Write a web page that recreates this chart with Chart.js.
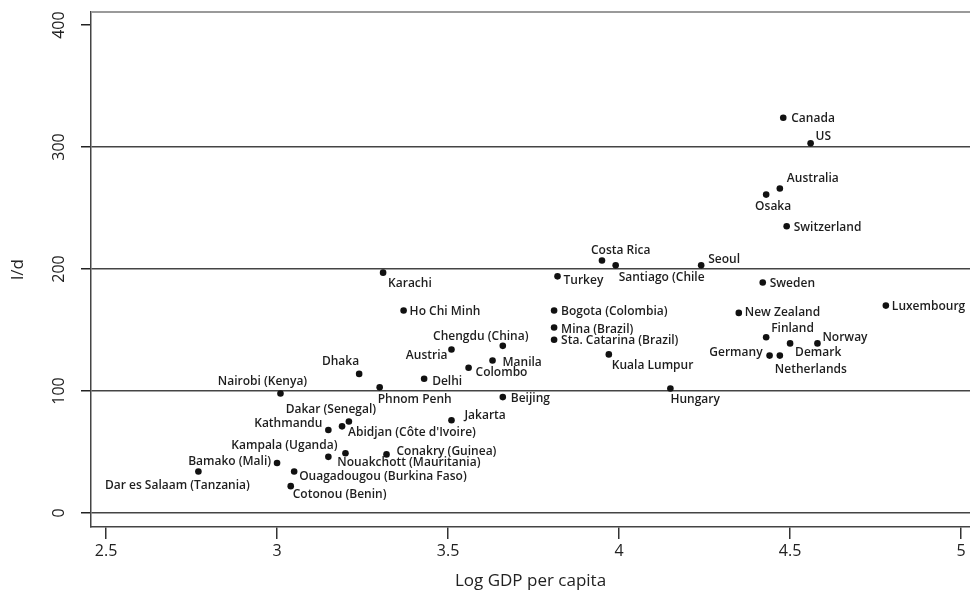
<!DOCTYPE html>
<html>
<head>
<meta charset="utf-8">
<script src="https://cdn.jsdelivr.net/npm/chart.js@4.4.1/dist/chart.umd.min.js"></script>
<style>
  html, body { margin: 0; padding: 0; background: #fff; overflow: hidden; }
  #wrap { width: 970px; height: 592px; }
</style>
</head>
<body>
<div id="wrap"><canvas id="gdpChart"></canvas></div>
<script>
// ---- data ----
const places = [
    "Canada", "US", "Australia", "Osaka", "Switzerland", "Costa Rica", "Santiago (Chile", "Seoul",
    "Turkey", "Sweden", "Karachi", "Ho Chi Minh", "Bogota (Colombia)", "Mina (Brazil)",
    "Sta. Catarina (Brazil)", "Chengdu (China)", "Austria", "Manila", "Colombo", "Delhi",
    "Phnom Penh", "Beijing", "Jakarta", "Kuala Lumpur", "Hungary", "New Zealand", "Luxembourg",
    "Finland", "Norway", "Demark", "Germany", "Netherlands", "Dhaka", "Nairobi (Kenya)",
    "Dakar (Senegal)", "Abidjan (Côte d'Ivoire)", "Kathmandu", "Kampala (Uganda)",
    "Nouakchott (Mauritania)", "Conakry (Guinea)", "Bamako (Mali)", "Ouagadougou (Burkina Faso)",
    "Cotonou (Benin)", "Dar es Salaam (Tanzania)"
];
const logGdp = [
    4.48, 4.56, 4.47, 4.43, 4.49, 3.95, 3.99, 4.24,
    3.82, 4.42, 3.31, 3.37, 3.81, 3.81,
    3.81, 3.66, 3.51, 3.63, 3.56, 3.43,
    3.30, 3.66, 3.51, 3.97, 4.15, 4.35, 4.78,
    4.43, 4.58, 4.50, 4.44, 4.47, 3.24, 3.01,
    3.21, 3.19, 3.15, 3.20,
    3.15, 3.32, 3.00, 3.05,
    3.04, 2.77
];
const ld = [
    324, 303, 266, 261, 235, 207, 203, 203,
    194, 189, 197, 166, 166, 152,
    142, 137, 134, 125, 119, 110,
    103, 95, 76, 130, 102, 164, 170,
    144, 139, 139, 129, 129, 114, 98,
    75, 71, 68, 49,
    46, 48, 41, 34,
    22, 34
];
const xTicks = [2.5, 3, 3.5, 4, 4.5, 5];
const yTicks = [0, 100, 200, 300, 400];

// where each marker label sits relative to its dot: [dx, dy, align]
const labelSpot = {
    "Canada": [8, 1, "left"], "US": [5, -7, "left"], "Australia": [7, -10, "left"],
    "Osaka": [7, 12, "center"], "Switzerland": [7, 1, "left"], "Costa Rica": [-11, -10, "left"],
    "Santiago (Chile": [3, 12, "left"], "Seoul": [7, -6, "left"], "Turkey": [6, 4, "left"],
    "Sweden": [7, 1, "left"], "Karachi": [5, 11, "left"], "Ho Chi Minh": [6, 1, "left"],
    "Bogota (Colombia)": [7, 1, "left"], "Mina (Brazil)": [7, 2, "left"],
    "Sta. Catarina (Brazil)": [7, 1, "left"], "Chengdu (China)": [-22, -9, "center"],
    "Austria": [-4, 6, "right"], "Manila": [10, 2, "left"], "Colombo": [7, 5, "left"],
    "Delhi": [8, 3, "left"], "Phnom Penh": [-2, 12, "left"], "Beijing": [8, 1, "left"],
    "Jakarta": [13, -5, "left"], "Kuala Lumpur": [3, 11, "left"], "Hungary": [0, 11, "left"],
    "New Zealand": [6, 0, "left"], "Luxembourg": [6, 1, "left"], "Finland": [5, -9, "left"],
    "Norway": [5, -6, "left"], "Demark": [5, 9, "left"], "Germany": [-7, -3, "right"],
    "Netherlands": [-5, 14, "left"], "Dhaka": [0, -12, "right"], "Nairobi (Kenya)": [-18, -12, "center"],
    "Dakar (Senegal)": [-18, -12, "center"], "Abidjan (Côte d'Ivoire)": [6, 6, "left"],
    "Kathmandu": [-6, -6, "right"], "Kampala (Uganda)": [-8, -8, "right"],
    "Nouakchott (Mauritania)": [9, 6, "left"], "Conakry (Guinea)": [10, -3, "left"],
    "Bamako (Mali)": [-6, -1, "right"], "Ouagadougou (Burkina Faso)": [5, 5, "left"],
    "Cotonou (Benin)": [2, 8, "left"], "Dar es Salaam (Tanzania)": [-21, 14, "center"]
};

const points = logGdp.map((v, i) => ({ x: v, y: ld[i] }));

const pointLabels = {
    id: "pointLabels",
    afterDatasetsDraw(chart) {
        const ctx = chart.ctx;
        const meta = chart.getDatasetMeta(0);
        ctx.save();
        ctx.font = "600 12px 'Open Sans'";
        ctx.fillStyle = "#1e1e1e";
        ctx.textBaseline = "middle";
        meta.data.forEach((pt, i) => {
            const spot = labelSpot[places[i]] || [6, 0, "left"];
            ctx.textAlign = spot[2];
            ctx.fillText(places[i], pt.x + spot[0], pt.y + spot[1]);
        });
        ctx.restore();
    },
    afterDraw(chart) {
        const ctx = chart.ctx;
        const area = chart.chartArea;
        const yScale = chart.scales.y;
        ctx.save();
        // top frame line
        ctx.strokeStyle = "#9a9a9a";
        ctx.lineWidth = 2;
        ctx.beginPath();
        ctx.moveTo(area.left, area.top);
        ctx.lineTo(area.right, area.top);
        ctx.stroke();
        // rotated y tick labels
        ctx.font = "16px 'Open Sans'";
        ctx.fillStyle = "#222";
        ctx.textAlign = "center";
        ctx.textBaseline = "middle";
        yTicks.forEach(v => {
            ctx.save();
            ctx.translate(59, yScale.getPixelForValue(v));
            ctx.rotate(-Math.PI / 2);
            ctx.fillText(String(v), 0, 0);
            ctx.restore();
        });
        ctx.restore();
    }
};

new Chart(document.getElementById("gdpChart"), {
    type: "scatter",
    data: {
        datasets: [{
            label: "l/d",
            data: points,
            pointRadius: 3.3,
            pointBackgroundColor: "#111",
            pointBorderWidth: 0
        }]
    },
    options: {
        responsive: true,
        maintainAspectRatio: false,
        animation: false,
        layout: { autoPadding: false, padding: { top: 12, right: 0, left: 0, bottom: 0 } },
        plugins: {
            legend: { display: false },
            tooltip: { enabled: false }
        },
        scales: {
            x: {
                type: "linear",
                min: 2.456,
                max: 5.026,
                afterBuildTicks: s => { s.ticks = xTicks.map(v => ({ value: v })); },
                afterFit: s => { s.height = 65; s.paddingLeft = 0; s.paddingRight = 0; },
                grid: { drawOnChartArea: false, drawTicks: true, tickLength: 12, tickColor: "#333", lineWidth: 1.5 },
                border: { display: true, color: "#444", width: 1.5 },
                ticks: {
                    color: "#222",
                    padding: 3,
                    font: { family: "'Open Sans'", size: 16 },
                    maxRotation: 0,
                    autoSkip: false,
                    callback: v => String(v)
                },
                title: {
                    display: true,
                    text: "Log GDP per capita",
                    color: "#222",
                    font: { family: "'Open Sans'", size: 17 },
                    padding: { top: 0, bottom: 1 }
                }
            },
            y: {
                type: "linear",
                min: -11.5,
                max: 410.7,
                afterBuildTicks: s => { s.ticks = yTicks.map(v => ({ value: v })); },
                afterFit: s => { s.width = 91; s.paddingTop = 0; s.paddingBottom = 0; },
                grid: {
                    color: c => (c.tick && c.tick.value === 400) ? "rgba(0,0,0,0)" : "#444",
                    lineWidth: 1.5,
                    drawTicks: true,
                    tickLength: 10,
                    tickColor: "#222"
                },
                border: { display: true, color: "#444", width: 1.5 },
                ticks: { display: false },
                title: {
                    display: true,
                    text: "l/d",
                    color: "#222",
                    font: { family: "'Open Sans'", size: 17 },
                    padding: { top: 8, bottom: 0 }
                }
            }
        }
    },
    plugins: [pointLabels]
});
</script>
</body>
</html>
